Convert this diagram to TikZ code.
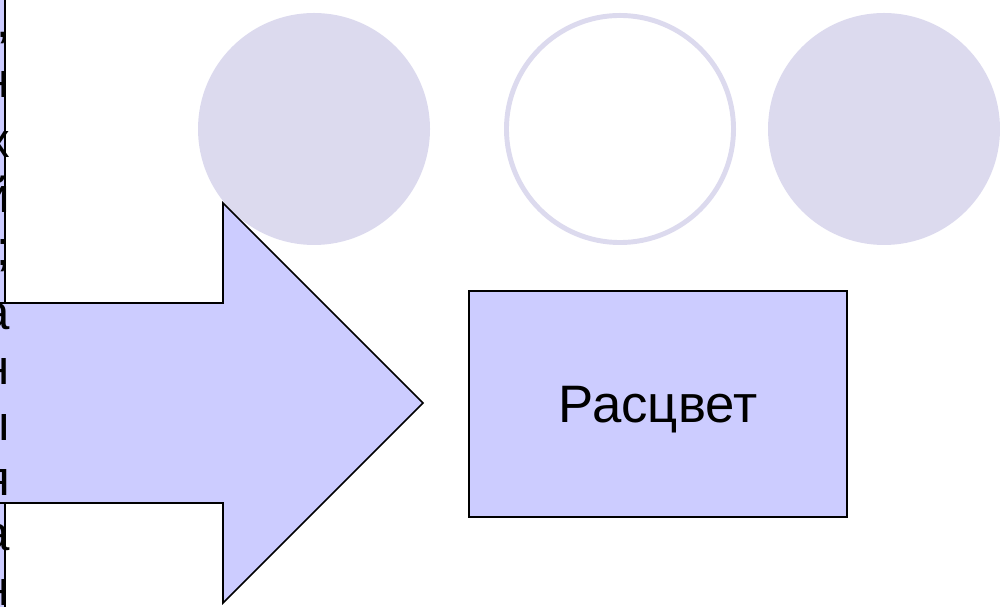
\documentclass[tikz,border=0pt]{standalone}
\usepackage{fontspec}
\setmainfont{Liberation Sans}
\definecolor{lav}{RGB}{204,204,255}
\definecolor{circ}{RGB}{220,218,238}
\begin{document}
\begin{tikzpicture}[x=0.02cm,y=-0.02cm,
  txt/.style={font=\fontsize{28}{32}\selectfont, inner sep=0pt},
  box/.style={draw=black, line width=0.9pt, fill=lav},
  disc/.style={circle, fill=circ, minimum size=232*0.02cm, inner sep=0pt},
  ring/.style={circle, draw=circ, fill=white, line width=2.8pt, minimum size=(232*0.02cm-2.8pt), inner sep=0pt}]
\useasboundingbox (0,0) rectangle (1000,607);
\clip (0,0) rectangle (1000,607);
% left text box (mostly off the page)
\node[box, minimum width=110*0.02cm, minimum height=640*0.02cm, inner sep=0pt, anchor=east] (leftbox) at (5.5,303) {};
% circles
\node[disc] (c1) at (314,129) {};
\node[ring] (c2) at (620,129) {};
\node[disc] (c3) at (884,129) {};
% big arrow
\path[box] (-20,303) coordinate (a1) -- (223,303) -- (223,203) -- (423,403) coordinate (tip) -- (223,603) -- (223,503) -- (-20,503) -- cycle;
% clipped text lines of the left box
\foreach \t/\y [count=\i] in {{,}/38, н/98, х/158, й/213, ;/266, а/330, н/385, ы/440, я/495, а/550, н/605}{
  \node[txt, anchor=base east] (lt\i) at (10.5,\y) {\t};
}
% right box
\node[box, minimum width=378*0.02cm, minimum height=226*0.02cm, inner sep=0pt] (bloom) at (658,404) {};
\node[inner sep=0pt, font=\fontsize{30}{34}\selectfont] (bloomtext) at (658,410) {Расцвет};
\end{tikzpicture}
\end{document}
